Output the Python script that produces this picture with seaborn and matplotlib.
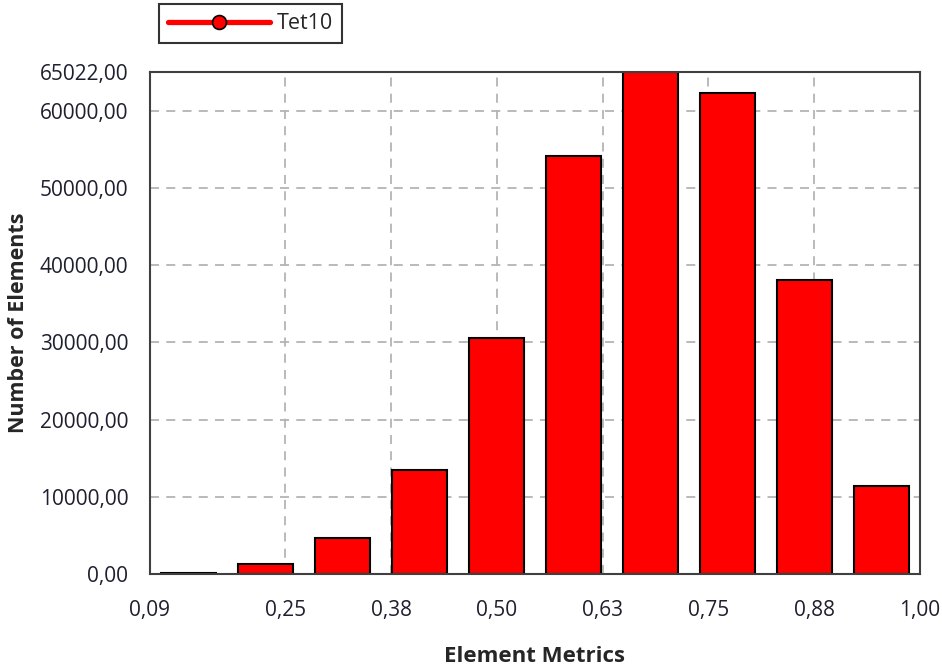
import matplotlib
matplotlib.use("Agg")
import matplotlib.pyplot as plt
import seaborn as sns
import pandas as pd
from matplotlib.lines import Line2D

# histogram of element quality (Tet10 mesh), 10 bins from 0.09 to 1.00
bin_centers = [0.1355, 0.2265, 0.3175, 0.4085, 0.4995, 0.5905, 0.6815, 0.7725, 0.8635, 0.9545]
element_counts = [150, 1250, 4600, 13450, 30600, 54200, 65022, 62250, 38100, 11350]

x_ticks = [0.09, 0.25, 0.375, 0.50, 0.625, 0.75, 0.875, 1.00]
x_tick_labels = ["0,09", "0,25", "0,38", "0,50", "0,63", "0,75", "0,88", "1,00"]
y_ticks = [0, 10000, 20000, 30000, 40000, 50000, 60000, 65022]
y_tick_labels = ["0,00", "10000,00", "20000,00", "30000,00", "40000,00",
                 "50000,00", "60000,00", "65022,00"]

df = pd.DataFrame({"metric": bin_centers, "count": element_counts})

sns.set_style("white")
plt.rcParams["font.family"] = ["Open Sans", "DejaVu Sans"]

fig = plt.figure(figsize=(9.42, 6.65), dpi=100)
ax = fig.add_axes([150 / 942, 1 - 574 / 665, 770 / 942, 502 / 665])

sns.barplot(data=df, x="metric", y="count", native_scale=True, width=0.71,
            color="red", saturation=1, edgecolor="black", linewidth=1.5,
            errorbar=None, ax=ax)

ax.set_xlim(0.09, 1.00)
ax.set_ylim(0, 65022)
ax.set_xticks(x_ticks)
ax.set_xticklabels(x_tick_labels)
ax.set_yticks(y_ticks)
ax.set_yticklabels(y_tick_labels)

# dashed grid behind the bars
ax.set_axisbelow(True)
ax.grid(True, linestyle=(0, (5, 4)), color="#b4b4b4", linewidth=1.3)

ax.tick_params(axis="both", direction="out", length=10.5, width=1.5,
               color="#b4b4b4", labelcolor="#1f1f2f", labelsize=15)
ax.tick_params(axis="x", pad=8)
ax.tick_params(axis="y", pad=5)
for side in ax.spines.values():
    side.set_color("#404040")
    side.set_linewidth(1.5)

ax.set_xlabel("Element Metrics", fontsize=16, fontweight="bold", labelpad=18)
ax.set_ylabel("Number of Elements", fontsize=15.5, fontweight="bold", labelpad=8)

handle = Line2D([], [], color="red", linewidth=3.8, marker="o", markersize=10,
                markerfacecolor="red", markeredgecolor="black", markeredgewidth=1.2)
leg = fig.legend(handles=[handle], labels=["Tet10"], loc="upper left",
                 bbox_to_anchor=(159 / 942, 1 - 4 / 665), frameon=True,
                 fancybox=False, edgecolor="#333333", framealpha=1,
                 handlelength=4.75, handletextpad=0.3, borderpad=0.42,
                 borderaxespad=0, fontsize=15.5)
leg.get_frame().set_linewidth(1.5)

fig.savefig("out.png", dpi=100)
